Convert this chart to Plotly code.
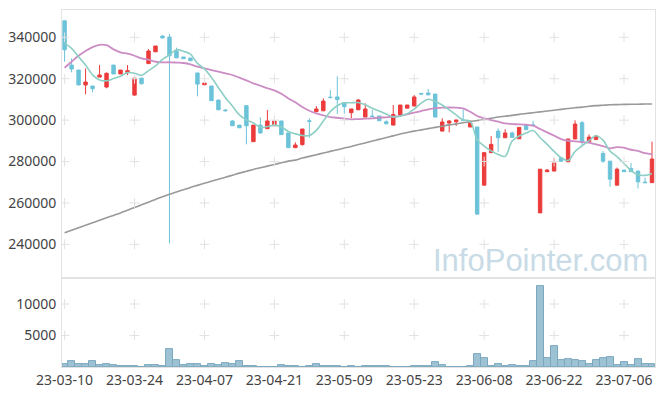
import plotly.graph_objects as go

dates = [
    "23-03-10", "23-03-13", "23-03-14", "23-03-15", "23-03-16", "23-03-17", "23-03-20", "23-03-21", "23-03-22", "23-03-23",
    "23-03-24", "23-03-27", "23-03-28", "23-03-29", "23-03-30", "23-03-31", "23-04-03", "23-04-04", "23-04-05", "23-04-06",
    "23-04-07", "23-04-10", "23-04-11", "23-04-12", "23-04-13", "23-04-14", "23-04-17", "23-04-18", "23-04-19", "23-04-20",
    "23-04-21", "23-04-24", "23-04-25", "23-04-26", "23-04-27", "23-04-28", "23-05-02", "23-05-03", "23-05-04", "23-05-08",
    "23-05-09", "23-05-10", "23-05-11", "23-05-12", "23-05-15", "23-05-16", "23-05-17", "23-05-18", "23-05-19", "23-05-22",
    "23-05-23", "23-05-24", "23-05-25", "23-05-26", "23-05-30", "23-05-31", "23-06-01", "23-06-02", "23-06-05", "23-06-07",
    "23-06-08", "23-06-09", "23-06-12", "23-06-13", "23-06-14", "23-06-15", "23-06-16", "23-06-19", "23-06-20", "23-06-21",
    "23-06-22", "23-06-23", "23-06-26", "23-06-27", "23-06-28", "23-06-29", "23-06-30", "23-07-03", "23-07-04", "23-07-05",
    "23-07-06", "23-07-07", "23-07-10", "23-07-11", "23-07-12",
]

opens = [
    348000, 326600, 324200, 317000, 316500, 320800, 316000, 326600, 322300, 322900,
    312100, 320300, 327300, 333000, 340600, 340100, 333400, 330500, 330000, 322800,
    317100, 316500, 309700, 304900, 299600, 297600, 307000, 289600, 297600, 295900,
    297300, 299600, 293800, 286700, 288200, 299700, 304100, 304500, 311100, 311200,
    308400, 303600, 305000, 301500, 302000, 302000, 299200, 297600, 302500, 305800,
    306800, 312900, 313100, 312600, 294700, 298600, 299200, 300100, 296700, 296700,
    268600, 284300, 294700, 291500, 293800, 291000, 297600, 297700, 255200, 275100,
    275400, 281800, 279900, 290900, 298800, 289600, 290600, 283900, 280200, 268600,
    275900, 276700, 275400, 270100, 269800,
]
highs = [
    348000, 329800, 324200, 325000, 316500, 326600, 323100, 326600, 324200, 326600,
    320300, 320300, 334300, 335800, 341000, 341600, 335000, 330500, 330000, 322800,
    317900, 316500, 309700, 305300, 300000, 297600, 307000, 297600, 301400, 304900,
    300000, 299600, 293800, 289300, 295700, 300900, 306800, 310500, 314500, 321200,
    308400, 305400, 310200, 308100, 304900, 302000, 299900, 307300, 307300, 307300,
    312100, 313000, 315000, 312600, 300900, 300000, 300100, 305200, 300000, 296700,
    284300, 292300, 296000, 295600, 294500, 296500, 297600, 299700, 276300, 276400,
    281500, 281800, 290900, 299900, 299600, 293100, 292900, 285100, 280200, 277100,
    275900, 279300, 275400, 272200, 289600,
]
lows = [
    328200, 323100, 317000, 312500, 313400, 320800, 315400, 322300, 322300, 321800,
    311800, 317200, 327300, 333000, 339500, 240500, 329900, 329700, 328700, 311500,
    317100, 309400, 305000, 304000, 297300, 296300, 288300, 289600, 293500, 295900,
    297300, 293000, 286700, 286700, 287700, 291500, 304100, 304500, 310500, 303000,
    303100, 300900, 305000, 301500, 301500, 299700, 297800, 297600, 302500, 305800,
    306800, 312500, 312200, 301500, 294700, 294100, 297200, 299500, 296700, 254600,
    268600, 284300, 284700, 291500, 291700, 291000, 295400, 297100, 255200, 275100,
    275400, 279800, 279900, 290900, 288000, 289600, 290600, 279400, 267800, 268600,
    275100, 275100, 267000, 269600, 269800,
]
closes = [
    334000, 324700, 317000, 318400, 315200, 321800, 322600, 322300, 324200, 323900,
    320300, 317600, 333400, 335800, 339700, 331100, 330100, 329700, 328700, 317400,
    317900, 309400, 305000, 304600, 297300, 296300, 297300, 297600, 293800, 299600,
    299600, 293000, 286700, 288000, 295700, 299400, 305400, 309200, 310900, 309900,
    306500, 305400, 309700, 305400, 301700, 299700, 298300, 302700, 307300, 307300,
    311200, 312600, 312200, 301500, 299100, 299600, 300100, 299900, 298600, 254600,
    284300, 288300, 291500, 293800, 291700, 296500, 295400, 297500, 276300, 275900,
    279300, 280200, 290900, 298100, 289300, 291800, 292300, 280200, 271500, 276300,
    275100, 275100, 270200, 269800, 281200,
]
volumes = [
    450, 950, 430, 430, 950, 270, 430, 270, 100, 100,
    100, 20, 270, 270, 100, 2790, 1100, 270, 430, 430,
    100, 430, 270, 580, 430, 950, 100, 100, 20, 20,
    20, 270, 100, 100, 20, 100, 430, 100, 100, 100,
    20, 100, 20, 100, 100, 100, 100, 20, 20, 20,
    100, 100, 200, 790, 310, 20, 20, 20, 100, 2050,
    1370, 100, 430, 100, 270, 100, 100, 950, 12770, 1370,
    3260, 1100, 1260, 1100, 950, 430, 1100, 1370, 1530, 270,
    790, 270, 1260, 430, 430,
]
ma5 = [
    337100, 334700, 330600, 326600, 321860, 319420, 319000, 320060, 321220, 322960,
    322660, 321660, 323880, 326200, 329360, 331520, 334020, 333280, 331860, 327400,
    324760, 320620, 315680, 310860, 306840, 302520, 300100, 298620, 296460, 296920,
    297580, 296720, 294540, 293380, 292600, 292560, 295040, 299540, 304120, 306960,
    308380, 308380, 308480, 307380, 305740, 304380, 302960, 301560, 301940, 303060,
    305360, 308220, 310120, 308960, 307320, 305000, 302500, 300040, 299460, 290560,
    287500, 285140, 283460, 282500, 289920, 292360, 293780, 294980, 291480, 288320,
    284880, 281840, 280520, 284880, 287560, 290060, 292480, 290340, 285020, 282420,
    279080, 275640, 273640, 273300, 274280,
]
ma20 = [
    325300, 328200, 331100, 333400, 335300, 336400, 336200, 334200, 332750, 332100,
    331100, 329850, 329200, 328200, 327950, 327950, 327800, 327600, 326950, 325800,
    325000, 324200, 323400, 322600, 321800, 320500, 319200, 317800, 316600, 315400,
    314400, 312750, 310500, 308600, 306300, 304550, 303300, 302300, 301500, 301150,
    300700, 300400, 300500, 300700, 300900, 301200, 301350, 301650, 302100, 302800,
    303600, 304400, 305200, 305850, 306000, 306100, 306000, 305700, 304050, 302000,
    300900, 300050, 299240, 298450, 298100, 297970, 297800, 297300, 295700, 294100,
    292500, 290870, 290050, 289750, 289400, 289100, 288300, 287500, 286400, 287000,
    286700, 285700, 285100, 284100, 283500,
]
ma120 = [
    245600, 246800, 248000, 249200, 250400, 251600, 252800, 254000, 255200, 256500,
    257800, 259100, 260400, 261700, 263000, 264200, 265300, 266400, 267500, 268500,
    269500, 270500, 271500, 272400, 273400, 274400, 275300, 276200, 277000, 277800,
    278600, 279400, 280200, 280700, 281700, 282500, 283300, 284100, 284900, 285700,
    286500, 287300, 288200, 289000, 289900, 290700, 291600, 292400, 293300, 294000,
    294700, 295300, 295900, 296500, 297100, 297700, 298200, 298700, 299300, 299800,
    300400, 300900, 301500, 301900, 302300, 302800, 303200, 303600, 304000, 304400,
    304800, 305200, 305600, 306000, 306300, 306700, 307000, 307200, 307400, 307500,
    307600, 307700, 307700, 307800, 307800,
]
price_ticks = [240000, 260000, 280000, 300000, 320000, 340000]
volume_ticks = [5000, 10000]
tick_dates = dates[::10]

UP = "#ec3b3b"
DOWN = "#6cc3d9"
FONT = "Noto Sans"
TICK_SIZE = 14

fig = go.Figure()

fig.add_trace(go.Scatter(x=dates, y=ma120, mode="lines", line=dict(color="#999999", width=1.6, shape="spline"),
                         xaxis="x", yaxis="y", showlegend=False))
fig.add_trace(go.Scatter(x=dates, y=ma20, mode="lines", line=dict(color="#cc8cc4", width=1.8, shape="spline"),
                         xaxis="x", yaxis="y", showlegend=False))
fig.add_trace(go.Scatter(x=dates, y=ma5, mode="lines", line=dict(color="#8dcfc4", width=1.6, shape="spline"),
                         xaxis="x", yaxis="y", showlegend=False))

fig.add_trace(go.Candlestick(x=dates, open=opens, high=highs, low=lows, close=closes,
                             xaxis="x", yaxis="y", showlegend=False,
                             increasing=dict(line=dict(color=UP, width=1), fillcolor=UP),
                             decreasing=dict(line=dict(color=DOWN, width=1), fillcolor=DOWN),
                             whiskerwidth=0))

fig.add_trace(go.Bar(x=dates, y=volumes, xaxis="x2", yaxis="y2", showlegend=False,
                     marker=dict(color="#9cc2d3", line=dict(color="#7ba8be", width=1))))

# grid crosses at tick intersections
gx, gy = [], []
for d in tick_dates:
    for p in price_ticks:
        gx.append(d)
        gy.append(p)
fig.add_trace(go.Scatter(x=gx, y=gy, mode="markers", xaxis="x", yaxis="y",
                         marker=dict(symbol="cross-thin", size=7, line=dict(width=1, color="#e2e2e2")),
                         hoverinfo="skip", showlegend=False))
vx, vy = [], []
for d in tick_dates:
    for p in volume_ticks:
        vx.append(d)
        vy.append(p)
fig.add_trace(go.Scatter(x=vx, y=vy, mode="markers", xaxis="x2", yaxis="y2",
                         marker=dict(symbol="cross-thin", size=7, line=dict(width=1, color="#e2e2e2")),
                         hoverinfo="skip", showlegend=False))

axis_line = "#e3e3e3"
# page body has an 8px margin, so the figure is 8px smaller with matching margins
fig.update_layout(
    width=657, height=388,
    margin=dict(l=54, r=10, t=2, b=29, autoexpand=False),
    paper_bgcolor="white", plot_bgcolor="white",
    bargap=0,
    font=dict(family=FONT, size=TICK_SIZE, color="#444444"),
    xaxis=dict(type="category", categoryorder="array", categoryarray=dates, automargin=False,
               domain=[0, 1], anchor="y", range=[-0.37, 84.43],
               showticklabels=False, showgrid=False, zeroline=False,
               showline=True, mirror=True, linecolor=axis_line, linewidth=1,
               rangeslider=dict(visible=False), tickvals=tick_dates, ticks=""),
    yaxis=dict(domain=[0.249, 1], range=[223700, 353200], tickvals=price_ticks, tickformat="d",
               automargin=False, ticklabelstandoff=2,
               showgrid=False, zeroline=False, showline=True, mirror=True,
               linecolor=axis_line, linewidth=1, ticks="", tickfont=dict(size=TICK_SIZE)),
    xaxis2=dict(type="category", categoryorder="array", categoryarray=dates, automargin=False,
                domain=[0, 1], anchor="y2", matches="x", range=[-0.37, 84.43],
                tickvals=tick_dates, ticktext=tick_dates, tickangle=0, showgrid=False, zeroline=False,
                showline=True, mirror=True, linecolor=axis_line, linewidth=1, ticks="",
                tickfont=dict(size=TICK_SIZE)),
    yaxis2=dict(domain=[0, 0.249], range=[0, 14111], tickvals=volume_ticks, tickformat="d",
                automargin=False, ticklabelstandoff=2,
                showgrid=False, zeroline=False, showline=True, mirror=True,
                linecolor=axis_line, linewidth=1, ticks="", tickfont=dict(size=TICK_SIZE)),
)

fig.add_annotation(text="InfoPointer.com", xref="paper", yref="paper", x=1, y=0.249,
                   xanchor="right", yanchor="bottom", xshift=-5, yshift=-2, showarrow=False,
                   font=dict(family="Liberation Sans", size=31, color="#c8dbe6"))

fig.write_html("out.html")
